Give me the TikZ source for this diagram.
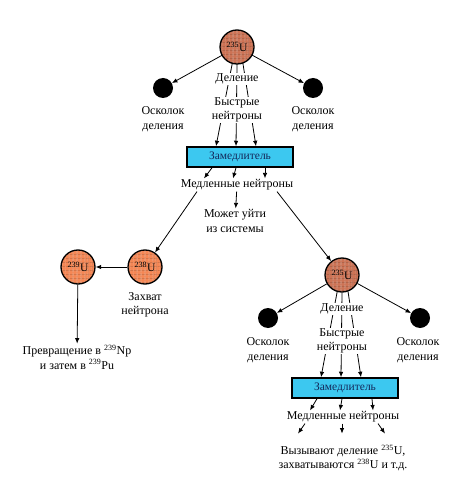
\documentclass[tikz,border=0pt]{standalone}
\usepackage{fontspec}
\setmainfont{Liberation Serif}
\usetikzlibrary{arrows.meta,positioning,patterns.meta}
\definecolor{NucBrown}{RGB}{205,115,85}
\definecolor{NucOrange}{RGB}{245,135,85}
\definecolor{ModCyan}{RGB}{60,200,240}
\definecolor{ModText}{RGB}{20,40,90}
\tikzset{
  lbl/.style={align=center,font=\fontsize{12}{14.5}\selectfont,inner sep=1pt},
  cutlbl/.style={lbl,fill=white},
  nucleus/.style={circle,draw=black,line width=1.3pt,minimum size=34pt,inner sep=0pt,
    preaction={fill=#1},
    preaction={pattern={Lines[distance=4pt,angle=0,line width=0.35pt]},pattern color=#1!80!black},
    pattern={Lines[distance=4pt,angle=90,line width=0.35pt]},pattern color=#1!80!black,
    font=\fontsize{11.5}{11.5}\selectfont},
  frag/.style={circle,fill=black,minimum size=20pt,inner sep=0pt},
  modbox/.style={rectangle,draw=black,line width=1.5pt,fill=ModCyan,text=ModText,
    minimum width=106pt,minimum height=20pt,font=\fontsize{11.5}{12}\selectfont},
  arrow/.style={-{Latex[length=5.5pt,width=4.5pt]},line width=0.8pt,color=black}
}
\begin{document}
\begin{tikzpicture}[x=1pt,y=-1pt]
  \useasboundingbox (0,0) rectangle (460,486);
  % first fission
  \node[nucleus=NucBrown] (u1) at (237,47) {\textsuperscript{235}U};
  \node[frag] (f1l) at (163,88) {};
  \node[frag] (f1r) at (313,88) {};
  \node[lbl] (f1lt) at (163,119) {Осколок\\деления};
  \node[lbl] (f1rt) at (313,119) {Осколок\\деления};
  \node[modbox] (m1) at (240,157) {Замедлитель};
  \draw[arrow] (u1) -- (f1l);
  \draw[arrow] (u1) -- (f1r);
  \foreach \a/\s in {-106/-24,-90/-4,-70/16} \draw[arrow] (u1.\a) -- ([xshift=\s pt]m1.north);
  \node[cutlbl] (d1) at (237,79) {Деление};
  \node[cutlbl] (b1) at (237,110) {Быстрые\\нейтроны};
  \node[lbl] (s1) at (237,185) {Медленные нейтроны};
  \foreach \a/\b in {-28/-33,-4/-4,25/28} \draw[arrow] ([xshift=\a pt]m1.south) -- ([xshift=\b pt]s1.north);
  \node[lbl] (esc) at (235,221) {Может уйти\\из системы};
  \draw[arrow] (s1) -- (esc);
  % capture branch
  \node[nucleus=NucOrange] (u238) at (145,267) {\textsuperscript{238}U};
  \node[nucleus=NucOrange] (u239) at (78,267) {\textsuperscript{239}U};
  \node[lbl] (cap) at (145,305) {Захват\\нейтрона};
  \node[lbl] (conv) at (77,357) {Превращение в \textsuperscript{239}Np\\и затем в \textsuperscript{239}Pu};
  \draw[arrow] ([xshift=-40pt]s1.south) -- (u238);
  \draw[arrow] (u238) -- (u239);
  \draw[arrow] (u239) -- (conv);
  % second fission
  \node[nucleus=NucBrown] (u2) at (342,275) {\textsuperscript{235}U};
  \draw[arrow] ([xshift=40pt]s1.south) -- (u2);
  \node[frag] (f2l) at (268,318) {};
  \node[frag] (f2r) at (420,318) {};
  \node[lbl] (f2lt) at (268,350) {Осколок\\деления};
  \node[lbl] (f2rt) at (418,350) {Осколок\\деления};
  \node[modbox] (m2) at (345,388) {Замедлитель};
  \draw[arrow] (u2) -- (f2l);
  \draw[arrow] (u2) -- (f2r);
  \foreach \a/\s in {-106/-24,-90/-4,-70/16} \draw[arrow] (u2.\a) -- ([xshift=\s pt]m2.north);
  \node[cutlbl] (d2) at (342,309) {Деление};
  \node[cutlbl] (b2) at (342,341) {Быстрые\\нейтроны};
  \node[lbl] (s2) at (343,417) {Медленные нейтроны};
  \foreach \a/\b in {-28/-33,-3/-3,27/30} \draw[arrow] ([xshift=\a pt]m2.south) -- ([xshift=\b pt]s2.north);
  \node[lbl] (res) at (343,458) {Вызывают деление \textsuperscript{235}U,\\захватываются \textsuperscript{238}U и т.д.};
  \foreach \a/\b in {-38/-45,-1/-1,35/42} \draw[arrow] ([xshift=\a pt]s2.south) -- ([xshift=\b pt,yshift=10pt]res.north);
\end{tikzpicture}
\end{document}
